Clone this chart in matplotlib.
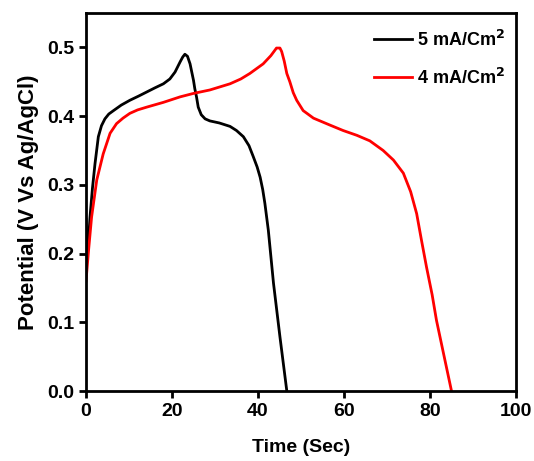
import matplotlib
matplotlib.use("Agg")
import matplotlib.pyplot as plt

# 5 mA/cm2 charge-discharge curve
t_5 = [0, 0.3, 0.6, 0.93, 1.5, 2.1, 2.87, 3.6, 4.4, 5.3, 6.4, 8.2, 10.2, 12.2, 14.1, 16,
       18, 19.5, 20.7, 21.9, 22.5, 23, 23.6, 24.2, 25, 25.3, 25.7, 26.1, 26.8, 27.7, 28.8,
       31, 33.5, 35, 36.6, 37.9, 38.9, 39.8, 40.5, 41.1, 41.6, 42.4, 43.6, 45.1, 46.7]
v_5 = [0.25, 0.2, 0.22, 0.253, 0.295, 0.331, 0.37, 0.386, 0.396, 0.403, 0.408, 0.416,
       0.423, 0.429, 0.435, 0.441, 0.447, 0.454, 0.464, 0.479, 0.486, 0.49, 0.487, 0.476,
       0.452, 0.44, 0.428, 0.413, 0.402, 0.396, 0.393, 0.39, 0.385, 0.379, 0.37, 0.357,
       0.341, 0.326, 0.311, 0.293, 0.273, 0.234, 0.157, 0.079, 0.0]

# 4 mA/cm2 charge-discharge curve
t_4 = [0, 0.6, 1.3, 2.5, 4.0, 5.6, 7.1, 8.6, 10.2, 12, 14.1, 18, 21.9, 25, 28.8, 33.5,
       36, 38.1, 41.2, 43, 44.3, 45.1, 45.5, 46.1, 46.7, 47.4, 48.2, 49, 50.5, 52.9,
       56.7, 59.8, 63, 66, 69.1, 71.5, 73.8, 75.5, 76.9, 78, 79.2, 80.5, 81.5, 83.3, 85]
v_4 = [0.16, 0.205, 0.253, 0.307, 0.345, 0.375, 0.389, 0.397, 0.404, 0.409, 0.413, 0.42,
       0.428, 0.433, 0.438, 0.447, 0.454, 0.462, 0.476, 0.488, 0.499, 0.499, 0.494, 0.48,
       0.462, 0.45, 0.434, 0.423, 0.408, 0.397, 0.387, 0.379, 0.372, 0.364, 0.35, 0.336,
       0.317, 0.29, 0.258, 0.22, 0.18, 0.14, 0.103, 0.05, 0.0]

plt.rcParams['font.family'] = ['Liberation Sans', 'DejaVu Sans']
plt.rcParams['font.weight'] = 'bold'

fig = plt.figure(figsize=(5.34, 4.61), dpi=100)
ax = fig.add_axes([86 / 534, 1 - 391 / 461, 430 / 534, 378 / 461])

ax.plot(t_5, v_5, color='black', lw=2, label='5 mA/Cm$^\\mathbf{2}$')
ax.plot(t_4, v_4, color='#ff0000', lw=2, label='4 mA/Cm$^\\mathbf{2}$')

ax.set_xlim(0, 100)
ax.set_ylim(0, 0.55)
ax.set_xticks([0, 20, 40, 60, 80, 100])
ax.set_yticks([0.0, 0.1, 0.2, 0.3, 0.4, 0.5])
ax.set_yticklabels(['0.0', '0.1', '0.2', '0.3', '0.4', '0.5'])
ax.tick_params(direction='out', width=2, length=5, labelsize=14, top=False, right=False)
for s in ax.spines.values():
    s.set_linewidth(2)

ax.set_xlabel('Time (Sec)', fontsize=14, fontweight='bold', labelpad=14)
ax.set_ylabel('Potential (V Vs Ag/AgCl)', fontsize=16, fontweight='bold', labelpad=6)

leg = ax.legend(loc='upper right', frameon=False, fontsize=13, handlelength=2.1,
                handletextpad=0.3, labelspacing=1.0, borderaxespad=0.2,
                bbox_to_anchor=(1.0, 0.985))

fig.savefig('out.png', dpi=100)
